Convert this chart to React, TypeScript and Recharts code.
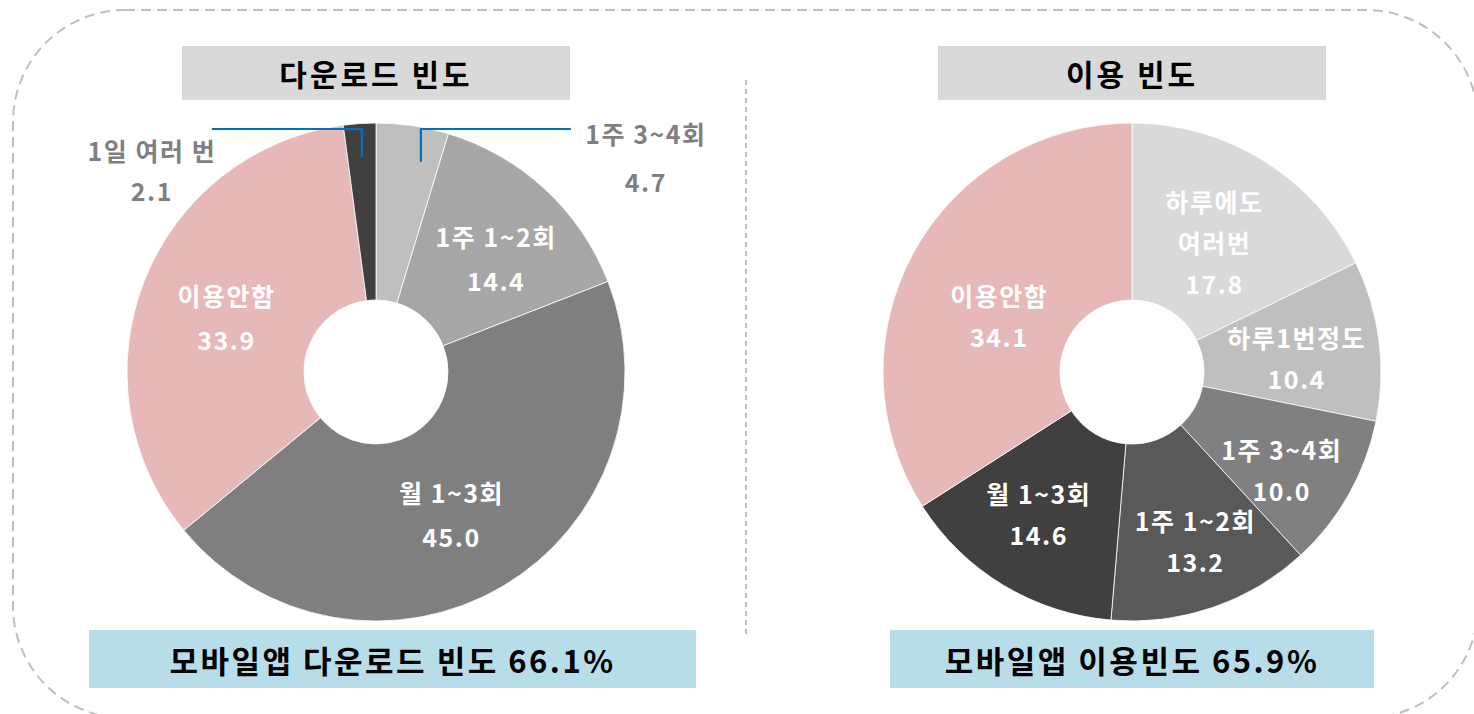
import React from "react";
import { PieChart, Pie, Cell } from "recharts";

const downloadCategories = ["1주 3~4회", "1주 1~2회", "월 1~3회", "이용안함", "1일 여러 번"];
const downloadValues = [4.7, 14.4, 45.0, 33.9, 2.1];
const downloadColors = ["#bfbfbf", "#a6a6a6", "#7f7f7f", "#e6b8b7", "#404040"];

const usageCategories = ["하루에도\n여러번", "하루1번정도", "1주 3~4회", "1주 1~2회", "월 1~3회", "이용안함"];
const usageValues = [17.8, 10.4, 10.0, 13.2, 14.6, 34.1];
const usageColors = ["#d9d9d9", "#bfbfbf", "#808080", "#595959", "#404040", "#e6b8b7"];

const titles = ["다운로드 빈도", "이용 빈도"];
const summaries = ["모바일앱 다운로드 빈도 66.1%", "모바일앱 이용빈도 65.9%"];

const FONT = "'Noto Sans CJK KR', 'Noto Sans', sans-serif";
const RADIAN = Math.PI / 180;

// outside labels with blue leader lines (download chart only)
const outsideLayout: Record<number, { side: number; dAngle: number; textDy: number[] }> = {
  0: { side: 1, dAngle: -3.6, textDy: [4, 52] },
  4: { side: -1, dAngle: 0, textDy: [21, 61] },
};

// small label nudges (px) so labels sit where the original placed them
const downloadNudge = [[0, 0], [8, 7], [-8, 0], [4, 5], [0, 0]];
const usageNudge = [[-5, 10], [1, 6], [6, 16], [10, 12], [-8, 0], [12, 23]];

const toRows = (cats: string[], vals: number[]) =>
  cats.map((c, i) => ({ name: c, value: vals[i] }));

const makeLabel = (outside: typeof outsideLayout, nudge: number[][], gap: number) => (props: any) => {
  const { cx, cy, midAngle, index, value, name } = props;
  const lines = [...String(name).split("\n"), value.toFixed(1)];
  const o = outside[index];
  if (o) {
    const a = (midAngle + o.dAngle) * RADIAN;
    const ax = cx + 215 * Math.cos(a);
    const ay = cy - 215 * Math.sin(a);
    const ly = cy - 243;
    const ex = ax + o.side * 150;
    const tx = o.side > 0 ? ex + 75 : ex - 60;
    return (
      <g>
        <polyline
          points={`${ax},${ay} ${ax},${ly} ${ex},${ly}`}
          fill="none"
          stroke="#0070c0"
          strokeWidth={2.2}
        />
        {lines.map((t, i) => (
          <text
            key={i}
            x={tx}
            y={ly + o.textDy[i]}
            textAnchor="middle"
            dominantBaseline="central"
            fill="#7f7f7f"
            fontFamily={FONT}
            fontWeight={700}
            fontSize={25}
            letterSpacing={1.5}
          >
            {t}
          </text>
        ))}
      </g>
    );
  }
  const r = 165;
  const [nx, ny] = nudge[index] || [0, 0];
  const x = cx + r * Math.cos(-midAngle * RADIAN) + nx;
  const y = cy + r * Math.sin(-midAngle * RADIAN) + ny;
  const top = y - ((lines.length - 1) * gap) / 2;
  return (
    <g>
      {lines.map((t, i) => (
        <text
          key={i}
          x={x}
          y={top + i * gap}
          textAnchor="middle"
          dominantBaseline="central"
          fill="#ffffff"
          fontFamily={FONT}
          fontWeight={700}
          fontSize={25}
          letterSpacing={1.5}
        >
          {t}
        </text>
      ))}
    </g>
  );
};

function Donut({ rows, colors, outside, nudge, gap, w, h }: any) {
  return (
    <PieChart width={w} height={h}>
      <Pie
        data={rows}
        dataKey="value"
        nameKey="name"
        cx="50%"
        cy="50%"
        innerRadius={72}
        outerRadius={249}
        startAngle={90}
        endAngle={-270}
        stroke="#ffffff"
        strokeWidth={0.8}
        labelLine={false}
        label={makeLabel(outside, nudge, gap)}
        isAnimationActive={false}
      >
        {rows.map((_: any, i: number) => (
          <Cell key={i} fill={colors[i]} />
        ))}
      </Pie>
    </PieChart>
  );
}

const box = (x: number, y: number, w: number, h: number, bg: string): React.CSSProperties => ({
  position: "absolute",
  left: x,
  top: y,
  width: w,
  height: h,
  background: bg,
  display: "flex",
  alignItems: "center",
  justifyContent: "center",
  fontFamily: FONT,
  fontWeight: 700,
  color: "#000",
});

export default function App() {
  return (
    <div style={{ position: "absolute", left: 0, top: 0, width: 1474, height: 714, overflow: "hidden", background: "#fff" }}>
      <svg width={1474} height={714} style={{ position: "absolute", left: 0, top: 0 }}>
        <rect x={13} y={10} width={1465} height={708} rx={112} ry={112} fill="none"
          stroke="#bfbfbf" strokeWidth={2} strokeDasharray="10 6" />
        <line x1={746} y1={80} x2={746} y2={636} stroke="#bfbfbf" strokeWidth={2} strokeDasharray="5 4" />
      </svg>

      <div style={{ ...box(182, 46, 388, 54, "#d9d9d9"), fontSize: 30, letterSpacing: 3 }}>{titles[0]}</div>
      <div style={{ ...box(938, 46, 388, 54, "#d9d9d9"), fontSize: 30, letterSpacing: 3 }}>{titles[1]}</div>

      <div style={{ position: "absolute", left: -4, top: 62 }}>
        <Donut rows={toRows(downloadCategories, downloadValues)} colors={downloadColors}
          outside={outsideLayout} nudge={downloadNudge} gap={44} w={760} h={620} />
      </div>
      <div style={{ position: "absolute", left: 832, top: 72 }}>
        <Donut rows={toRows(usageCategories, usageValues)} colors={usageColors}
          outside={{}} nudge={usageNudge} gap={41} w={600} h={600} />
      </div>

      <div style={{ ...box(89, 630, 607, 58, "#b7dde8"), fontSize: 31, letterSpacing: 2.5 }}>{summaries[0]}</div>
      <div style={{ ...box(890, 630, 484, 58, "#b7dde8"), fontSize: 31, letterSpacing: 2.5 }}>{summaries[1]}</div>
    </div>
  );
}
